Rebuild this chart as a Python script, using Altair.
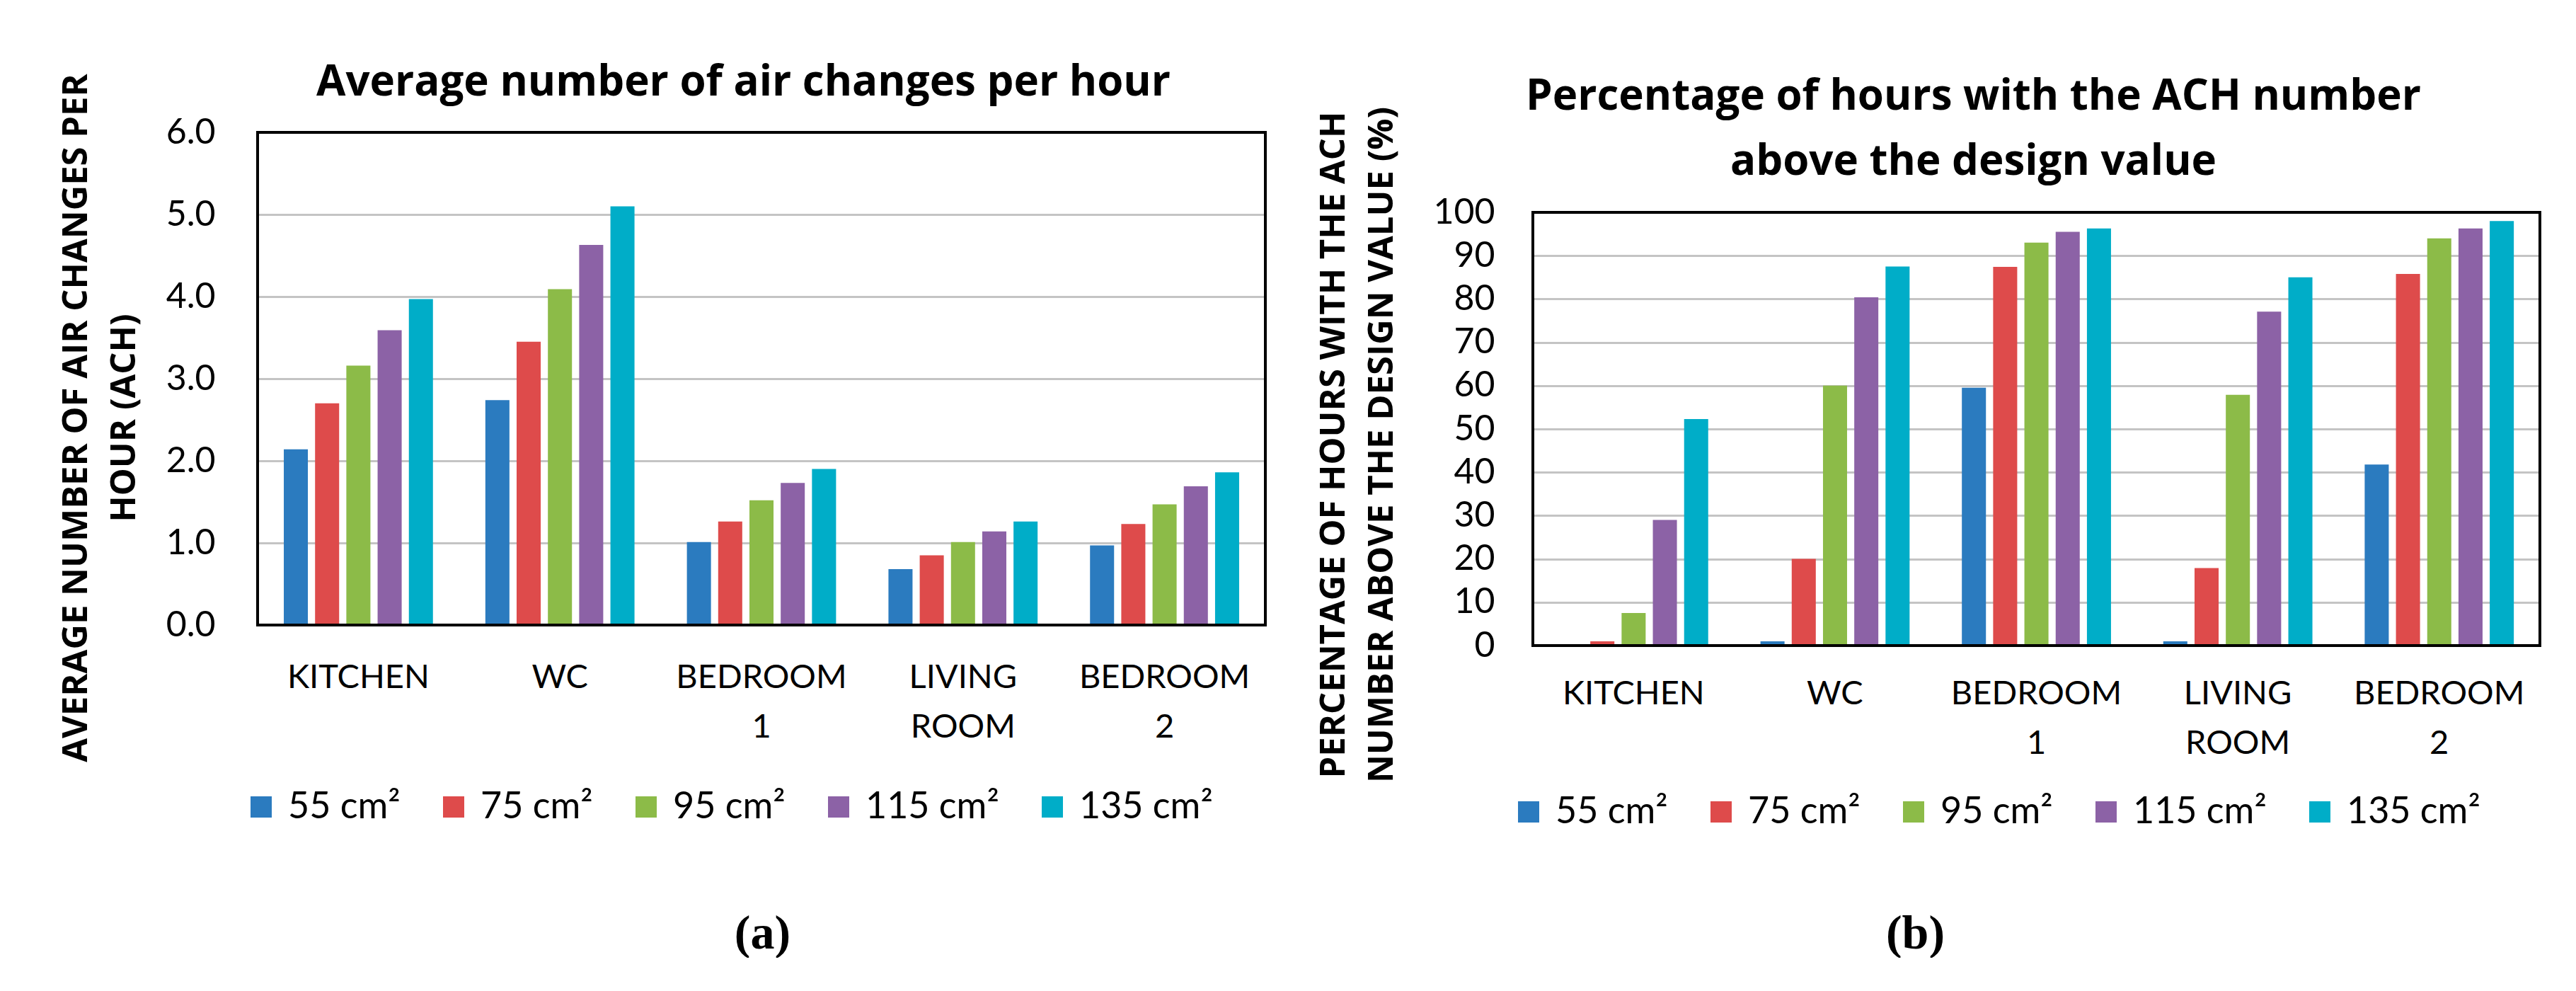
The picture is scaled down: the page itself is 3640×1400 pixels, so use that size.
import altair as alt
import pandas as pd

rooms = ["KITCHEN", "WC", "BEDROOM 1", "LIVING ROOM", "BEDROOM 2"]
sizes = ["55 cm²", "75 cm²", "95 cm²", "115 cm²", "135 cm²"]
colors = ["#2B7BBF", "#DE4B4B", "#8CBB48", "#8C62A6", "#00ADC8"]

# (a) average number of air changes per hour
ach_55 = [2.14, 2.74, 1.01, 0.68, 0.97]
ach_75 = [2.70, 3.45, 1.26, 0.85, 1.23]
ach_95 = [3.16, 4.09, 1.52, 1.01, 1.47]
ach_115 = [3.59, 4.63, 1.73, 1.14, 1.69]
ach_135 = [3.97, 5.10, 1.90, 1.26, 1.86]

# (b) percentage of hours with ACH above design value
pct_55 = [0.0, 1.0, 59.5, 1.0, 41.8]
pct_75 = [1.0, 20.0, 87.4, 17.9, 85.8]
pct_95 = [7.5, 60.0, 93.0, 57.9, 94.0]
pct_115 = [29.0, 80.4, 95.5, 77.1, 96.3]
pct_135 = [52.3, 87.5, 96.3, 85.0, 98.0]

ach_ticks = [0, 1, 2, 3, 4, 5, 6]
pct_ticks = [0, 10, 20, 30, 40, 50, 60, 70, 80, 90, 100]


def long_df(series):
    rows = []
    for size, vals in zip(sizes, series):
        for room, v in zip(rooms, vals):
            rows.append({"room": room, "size": size, "value": v})
    return pd.DataFrame(rows)


df_a = long_df([ach_55, ach_75, ach_95, ach_115, ach_135])
df_b = long_df([pct_55, pct_75, pct_95, pct_115, pct_135])

FONT = "Lato"
TFONT = "Open Sans"


def panel(df, ymax, ticks, fmt, title, title_x, title_y, ytitle, tag, W, H,
          yrange, lab_pad, xlab_pad, ytitle_x, ytitle_y, ytitle_lh,
          tag_x, tag_y, leg_x, leg_y):
    yscale = alt.Scale(domain=[0, ymax], range=yrange, nice=False)
    bars = alt.Chart(df).mark_bar().encode(
        x=alt.X("room:N", sort=rooms,
                scale=alt.Scale(paddingInner=0.26, paddingOuter=0.13),
                axis=alt.Axis(
                    orient="bottom",
                    labelExpr="split(datum.label, ' ')",
                    labelFont=FONT, labelFontSize=47, labelLineHeight=70,
                    labelBaseline="top", labelPadding=xlab_pad, labelAngle=0,
                    labelColor="black", labelLimit=1000, labelOverlap=False,
                    domain=False, ticks=False, tickSize=0,
                    title=tag, titleFont="Liberation Serif", titleFontSize=68,
                    titleFontWeight="bold", titleColor="black",
                    titleX=tag_x, titleY=tag_y, titleAlign="center",
                    titleBaseline="middle", titleLimit=2000)),
        xOffset=alt.XOffset("size:N", sort=sizes,
                            scale=alt.Scale(paddingInner=0.23, paddingOuter=0)),
        y=alt.Y("value:Q", scale=yscale,
                axis=alt.Axis(
                    values=ticks, format=fmt, grid=True, gridColor="#c4c4c4",
                    gridWidth=3, domain=False, ticks=False, tickSize=0,
                    labelFont=FONT, labelFontSize=50, labelPadding=lab_pad,
                    labelColor="black",
                    title=ytitle, titleFont=TFONT, titleFontWeight="bold",
                    titleFontSize=49, titleAngle=270, titleAlign="center",
                    titleBaseline="top", titleX=ytitle_x, titleY=ytitle_y,
                    titleLineHeight=ytitle_lh, titleColor="black",
                    titleLimit=2000)),
        color=alt.Color("size:N", sort=sizes,
                        scale=alt.Scale(domain=sizes, range=colors),
                        legend=alt.Legend(
                            title=None, orient="none", direction="horizontal",
                            legendX=leg_x, legendY=leg_y, symbolType="square",
                            symbolSize=900, symbolStrokeWidth=0,
                            labelFont=FONT, labelFontSize=52, labelOffset=12,
                            columnPadding=49, labelLimit=1000, padding=0,
                            labelColor="black")),
    )
    frame = alt.Chart(pd.DataFrame({"f": [0]})).mark_rect(
        fillOpacity=0, stroke="black", strokeWidth=4
    ).encode(
        x=alt.value(0), x2=alt.value(W),
        y=alt.datum(ymax), y2=alt.datum(0),
    )
    # carrier of the chart title (top axis title)
    head = alt.Chart(pd.DataFrame({"room": rooms})).mark_point(
        opacity=0
    ).encode(
        x=alt.X("room:N", sort=rooms,
                axis=alt.Axis(
                    orient="top", labels=False, ticks=False, domain=False,
                    grid=False, title=title, titleFont=TFONT,
                    titleFontSize=60, titleFontWeight="bold",
                    titleColor="black", titleX=title_x, titleY=title_y,
                    titleAlign="center", titleBaseline="top",
                    titleLineHeight=92, titleLimit=3000)),
        y=alt.value(0),
    )
    return alt.layer(bars, frame, head).resolve_scale(
        x="independent"
    ).properties(width=W, height=H)


left = panel(
    df_a, 6, ach_ticks, ".1f",
    "Average number of air changes per hour", 686, -100,
    ["AVERAGE NUMBER OF AIR CHANGES PER", "HOUR (ACH)"], "(a)",
    1424, 696, [696, 0], 60, 51, -281, 403, 68, 713, 436, -21, 927)

right = panel(
    df_b, 100, pct_ticks, "d",
    ["Percentage of hours with the ACH number", "above the design value"],
    622, -80,
    ["PERCENTAGE OF HOURS WITH THE ACH", "NUMBER ABOVE THE DESIGN VALUE (%)"],
    "(b)",
    1423, 725, [725, 113], 54, 45, -306, 441, 68, 540, 407, -32, 934)

chart = alt.hconcat(left, right, spacing=378, bounds="flush").resolve_scale(
    x="independent", y="independent", color="independent"
).resolve_legend(color="independent").configure_view(
    strokeOpacity=0
).properties(
    padding={"left": 74, "top": 78, "right": 0, "bottom": 0},
    background="white",
)

chart.save("out.html", embed_options={"renderer": "svg", "actions": False})
